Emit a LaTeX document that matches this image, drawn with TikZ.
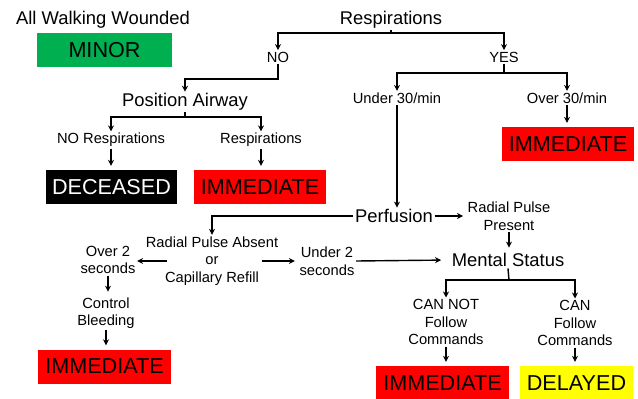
\documentclass[tikz,border=0pt]{standalone}
\usepackage{fontspec}
\setmainfont{Liberation Sans}
\usetikzlibrary{positioning,arrows.meta,calc}
\definecolor{minorgreen}{RGB}{0,176,80}
\definecolor{delayyellow}{RGB}{255,255,0}
\tikzset{
	big/.style={font=\fontsize{18.4}{21}\selectfont, inner sep=1.5pt},
	small/.style={font=\fontsize{14.7}{17.6}\selectfont, align=center, inner sep=1.5pt},
	tag/.style={font=\fontsize{21.6}{24}\selectfont, minimum height=34pt, inner sep=0pt},
	flow/.style={line width=1.4pt, -{Stealth[length=6pt,width=6pt]}},
	wire/.style={line width=1.4pt},
}
\begin{document}
\begin{tikzpicture}[x=1pt,y=-1pt]
	\useasboundingbox (0,0) rectangle (638,399);
	\node[big] (walk) at (103,20) {All Walking Wounded};
	\node[tag, fill=minorgreen, minimum width=135pt] (minor) at (104.5,50) {MINOR};
	\node[big] (resp) at (391,20) {Respirations};
	\node[small] (no) at (278,57) {NO};
	\node[small] (yes) at (504,57) {YES};
	\node[big] (airway) at (185,102) {Position Airway};
	\node[small] (norsp) at (111,140) {NO Respirations};
	\node[small] (rsp) at (261,140) {Respirations};
	\node[tag, fill=black, text=white, minimum width=131pt] (dead) at (111.5,187) {DECEASED};
	\node[tag, fill=red, minimum width=132pt] (immA) at (260,187) {IMMEDIATE};
	\node[small] (under30) at (397,98) {Under 30/min};
	\node[small] (over30) at (567,98) {Over 30/min};
	\node[tag, fill=red, minimum width=132pt] (immB) at (568,144) {IMMEDIATE};
	\node[big] (perf) at (394,216) {Perfusion};
	\node[small] (present) at (509,216) {Radial Pulse\\Present};
	\node[small] (absent) at (212,261) {Radial Pulse Absent\\or\\Capillary Refill};
	\node[small] (over2) at (108,260) {Over 2\\seconds};
	\node[small] (under2) at (327,261) {Under 2\\seconds};
	\node[big] (mental) at (508,260) {Mental Status};
	\node[small] (bleed) at (106,313) {Control\\Bleeding};
	\node[tag, fill=red, minimum width=133pt] (immC) at (104.5,366.5) {IMMEDIATE};
	\node[small] (cannot) at (446,322) {CAN NOT\\Follow\\Commands};
	\node[small] (can) at (575,323) {CAN\\Follow\\Commands};
	\node[tag, fill=red, minimum width=133pt] (immD) at (442.5,383) {IMMEDIATE};
	\node[tag, fill=delayyellow, minimum width=113pt] (delay) at (576.5,383) {DELAYED};

	\coordinate (respbus) at (391,33);
	\coordinate (nobus) at (278,79);
	\coordinate (airbus) at (185,117);
	\coordinate (yesbus) at (504,73);
	\coordinate (mentbus) at (509,280);
	\coordinate (absentL) at ($(absent.west)+(23,0)$);
	\coordinate (absentR) at ($(absent.east)+(-18,0)$);

	\draw[wire] (resp.south) -- (respbus);
	\draw[flow] (respbus) -| (no.north);
	\draw[flow] (respbus) -| (yes.north);
	\draw[flow] (no.south) -- (nobus) -| (airway.north);
	\draw[wire] (airway.south) -- (airbus);
	\draw[flow] (airbus) -| (norsp.north);
	\draw[flow] (airbus) -| (rsp.north);
	\draw[wire] (yes.south) -- (yesbus);
	\draw[flow] (yesbus) -| (under30.north);
	\draw[flow] (yesbus) -| (over30.north);
	\draw[flow] (under30.south) -- (under30.south |- perf.north);
	\draw[flow] (perf.west) -| (absent.north);
	\draw[flow, shorten >=3pt] (perf.east) -- (perf.east -| present.west);
	\draw[flow] (absentL) -- (absentL -| over2.east);
	\draw[flow, shorten >=3pt] (absentR) -- (absentR -| under2.west);
	\draw[flow, shorten >=9pt] (under2.east) -- (mental.west);
	\draw[wire] (mental.south) -- (mentbus);
	\draw[flow] (mentbus) -| (cannot.north);
	\draw[flow] (mentbus) -| (can.north);
	\foreach \from/\to in {norsp/dead, rsp/immA, over30/immB, present/mental, over2/bleed, bleed/immC, cannot/immD, can/delay}
		\draw[flow, shorten >=4pt] (\from.south) -- (\from.south |- \to.north);
\end{tikzpicture}
\end{document}
